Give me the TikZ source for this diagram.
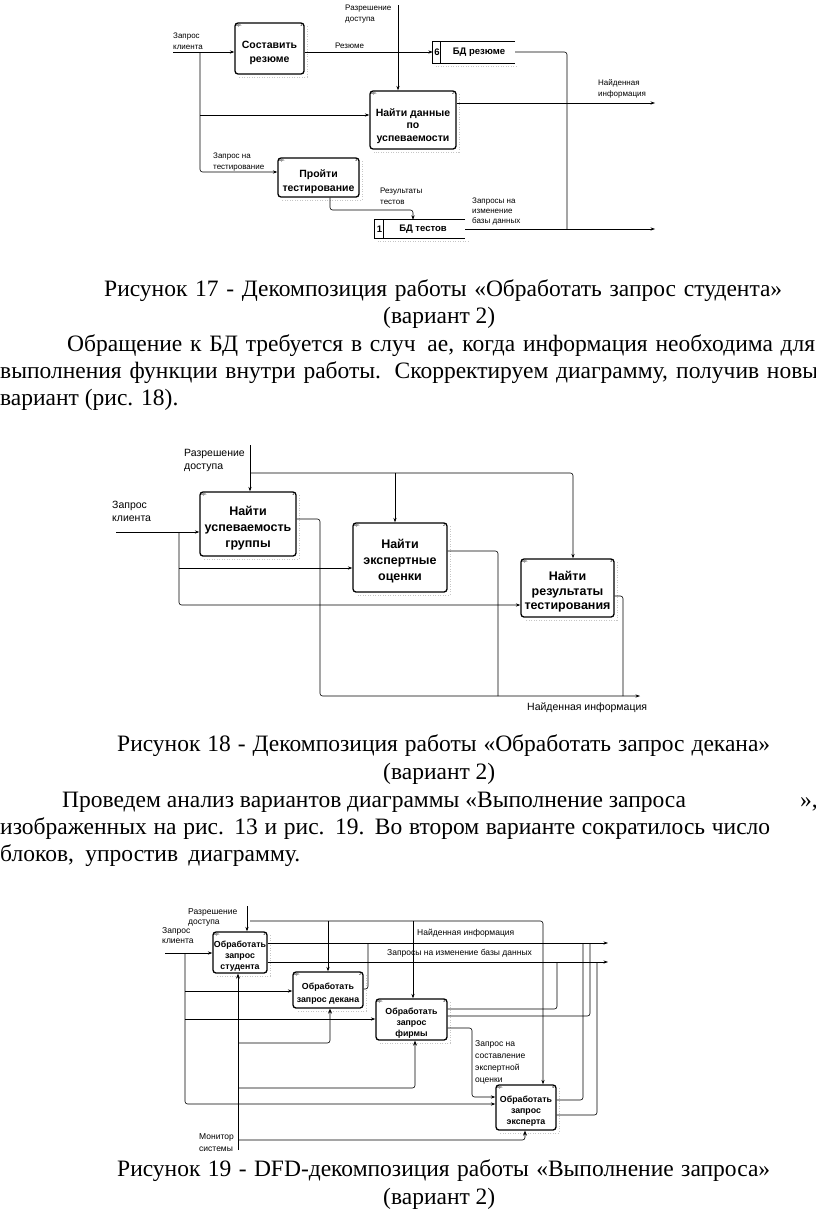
\documentclass[tikz,border=0pt]{standalone}
\usepackage{fontspec}
\setmainfont{Liberation Serif}
\setsansfont{Liberation Sans}
\usetikzlibrary{arrows.meta}
\newcommand\ibox[8][]{%
  \node[ibx,minimum width={(#5-#3)*1pt},minimum height={(#6-#4)*1pt}] (#2) at ({(#3+#5)/2},{(#4+#6)/2}) {};
  \node[ibt,#1] (#2-t) at ([shift={(0,4)}]#2.center) {#7};
  \node[tinyl,anchor=north west] (#2-op) at ([shift={(1.5,1.5)}]#2.north west) {0р.};
  \node[tinyl,anchor=north east] (#2-n) at ([shift={(-2,1.5)}]#2.north east) {#8};
  \draw[shd] ([shift={(2.5,4)}]#2.north east) -- ([shift={(2.5,2.5)}]#2.south east) -- ([shift={(5,2.5)}]#2.south west);
}
\newcommand\sline[2]{\makebox[#1pt][s]{#2}}
\tikzset{
  ln/.style={line width=0.6pt, rounded corners=2.5pt},
  arr/.style={ln, -{Stealth[length=4.5pt,width=3.2pt]}},
  marr/.style={ln, -{Stealth[length=5pt,width=4pt]}},
  ibx/.style={draw, line width=1.3pt, rounded corners=3pt, inner sep=0pt},
  ibt/.style={inner sep=0pt, align=center, font=\sffamily\bfseries},
  lbl/.style={inner sep=0pt, align=left, anchor=north west},
  body/.style={inner sep=0pt, anchor=base west, font=\fontsize{23.5}{28}\selectfont},
  tinyl/.style={inner sep=0pt, font=\sffamily\fontsize{4}{4}\selectfont},
  shd/.style={gray!45, line width=0.8pt, dash pattern=on 1pt off 1.5pt},
  stor/.style={inner sep=0pt},
  stxt/.style={inner sep=0pt, font=\sffamily\bfseries\fontsize{9.5}{10}\selectfont},
}
\begin{document}
\begin{tikzpicture}[x=1pt,y=-1pt]
\fill[white] (0,0) rectangle (816,1218);
\useasboundingbox (0,0) rectangle (816,1218);

% ================= Figure 17 =================
\begin{scope}[ibt/.append style={font=\sffamily\bfseries\fontsize{10.5}{14}\selectfont},
              lbl/.append style={font=\sffamily\fontsize{8}{11}\selectfont}]
\ibox{a1}{235}{23}{304}{74}{Составить\\резюме}{1}
\ibox[font=\sffamily\bfseries\fontsize{10.5}{12.5}\selectfont,yshift=-2pt]{a2}{370}{91}{456}{149}{Найти данные\\по\\успеваемости}{2}
\ibox{a3}{278}{158}{359}{197}{Пройти\\тестирование}{3}
% stores
\node[stor, minimum width=82pt, minimum height=21pt] (s1) at (474,52.5) {};
\draw[line width=1pt] (s1.north east) -- (s1.north west) -- (s1.south west) -- (s1.south east);
\draw[line width=0.8pt] ([xshift=8pt]s1.north west) -- ([xshift=8pt]s1.south west);
\node[stxt] (s1n) at (437,52.5) {6};
\node[stxt] (s1t) at (479,52.5) {БД резюме};
\draw[shd] ([shift={(3,3)}]s1.south west) -- ([shift={(3,3)}]s1.south east);
\node[stor, minimum width=90pt, minimum height=18pt] (s2) at (420,229) {};
\draw[line width=1pt] (s2.north east) -- (s2.north west) -- (s2.south west) -- (s2.south east);
\draw[line width=0.8pt] ([xshift=9pt]s2.north west) -- ([xshift=9pt]s2.south west);
\node[stxt] (s2n) at (379.5,229) {1};
\node[stxt] (s2t) at (423,229) {БД тестов};
\draw[shd] ([shift={(3,3)}]s2.south west) -- ([shift={(3,3)}]s2.south east);
% labels
\node[lbl] (l1) at (173,33) {Запрос\\клиента};
\node[lbl] (l2) at (345,5) {Разрешение\\доступа};
\node[lbl] (l3) at (335,43) {Резюме};
\node[lbl] (l4) at (598,79) {Найденная\\информация};
\node[lbl] (l5) at (213,153) {Запрос на\\тестирование};
\node[lbl] (l6) at (380,188) {Результаты\\тестов};
\node[lbl, font=\sffamily\fontsize{8}{10}\selectfont] (l7) at (472,198) {Запросы на\\изменение\\базы данных};
% connectors
\coordinate (qa) at (173,52);
\coordinate (ja) at (200,52);
\coordinate (pa) at (398,5);
\coordinate (oa1) at (655,103);
\coordinate (oa2) at (655,229);
\draw[arr] (qa) -- (a1.west |- qa);
\draw[arr] (ja) |- (a3.west |- 0,172);
\draw[arr] (ja |- 0,115) -- (a2.west |- 0,115);
\draw[arr] (a1.east |- qa) -- (s1.west |- qa);
\draw[arr] (pa) -- (pa |- a2.north);
\draw[arr] (a2.east |- oa1) -- (oa1);
\draw[ln] (s1.east |- qa) -| (567,229);
\draw[arr] (a3.south -| 330,0) |- (413,210) -- (s2.north -| 413,0);
\draw[arr] (s2.east |- oa2) -- (oa2);
\end{scope}

% ================= Figure 18 =================
\begin{scope}[ibt/.append style={font=\sffamily\bfseries\fontsize{12.5}{16}\selectfont},
              lbl/.append style={font=\sffamily\fontsize{10.5}{13}\selectfont}]
\ibox{c1}{200}{492}{296}{556}{Найти\\успеваемость\\группы}{1}
\ibox{c2}{353}{523}{447}{592}{Найти\\экспертные\\оценки}{2}
\ibox[font=\sffamily\bfseries\fontsize{12.5}{14.5}\selectfont]{c3}{521}{559}{614}{617}{Найти\\результаты\\тестирования}{3}
\node[lbl] (m1) at (184,449) {Разрешение\\доступа};
\node[lbl] (m2) at (112,501) {Запрос\\клиента};
\node[lbl] (m3) at (527,702) {Найденная информация};
\coordinate (pc) at (250,445);
\coordinate (qc) at (116,532);
\coordinate (jc) at (179,532);
\coordinate (oc) at (640,696);
\draw[arr] (pc) -- (pc |- c1.north);
\draw[arr] (250,473) -| (c3.north -| 573,0);
\draw[arr] (395,473) -- (c2.north -| 395,0);
\draw[arr] (qc) -- (c1.west |- qc);
\draw[arr] (jc) |- (c3.west |- 0,605);
\draw[arr] (jc |- 0,568) -- (c2.west |- 0,568);
\draw[arr] (c1.east |- 0,519) -| (320,696) -- (oc);
\draw[ln] (c2.east |- 0,551) -| (498,696);
\draw[ln] (c3.east |- 0,596) -| (623,696);
\end{scope}

% ================= Figure 19 =================
\begin{scope}[ibt/.append style={font=\sffamily\bfseries\fontsize{8.8}{11}\selectfont},
              lbl/.append style={font=\sffamily\fontsize{8.5}{10.5}\selectfont}]
\ibox{d1}{213}{932}{267}{973}{Обработать\\запрос\\студента}{1}
\ibox[font=\sffamily\bfseries\fontsize{8.8}{13}\selectfont]{d2}{293}{972}{363}{1008}{Обработать\\запрос декана}{2}
\ibox{d3}{376}{999}{447}{1040}{Обработать\\запрос\\фирмы}{3}
\ibox{d4}{496}{1085}{556}{1130}{Обработать\\запрос\\эксперта}{4}
\node[lbl] (n1) at (188,908) {Разрешение\\доступа};
\node[lbl] (n2) at (162,927) {Запрос\\клиента};
\node[lbl] (n3) at (417,929) {Найденная информация};
\node[lbl] (n4) at (387,949) {Запросы на изменение базы данных};
\node[lbl, font=\sffamily\fontsize{8.5}{12}\selectfont] (n5) at (475,1040) {Запрос на\\составление\\экспертной\\оценки};
\node[lbl, font=\sffamily\fontsize{8.5}{12}\selectfont] (n6) at (199,1133) {Монитор\\системы};
\coordinate (pd) at (247,906);
\coordinate (qd) at (165,953);
\coordinate (jd) at (185,953);
\coordinate (md) at (238,1150);
\coordinate (od1) at (608,943);
\coordinate (od2) at (608,962);
% control
\draw[arr] (pd) -- (pd |- d1.north);
\draw[arr] (250,921) -| (d4.north -| 543,0);
\draw[arr] (328,921) -- (d2.north -| 328,0);
\draw[arr] (413,921) -- (d3.north -| 413,0);
% inputs
\draw[arr] (qd) -- (d1.west |- qd);
\draw[arr] (jd) |- (d4.west |- 0,1104);
\draw[arr] (jd |- 0,991) -- (d2.west |- 0,991);
\draw[arr] (jd |- 0,1019) -- (d3.west |- 0,1019);
% mechanism
\draw[marr] (md) -- (md |- d1.south);
\draw[marr] (238,1043) -| (d2.south -| 330,0);
\draw[marr] (238,1088) -| (d3.south -| 415,0);
\draw[marr] (238,1140) -| (d4.south -| 525,0);
% outputs
\draw[arr] (d1.east |- od1) -- (od1);
\draw[arr] (d1.east |- od2) -- (od2);
\draw[ln] (d2.east |- 0,989) -| (368,943);
\draw[ln] (d3.east |- 0,1009) -| (557,962);
\draw[ln] (d3.east |- 0,1016) -| (590,943);
\draw[arr] (d3.east |- 0,1028) -| (472,1097) -- (d4.west |- 0,1097);
\draw[ln] (d4.east |- 0,1100) -| (583,943);
\draw[ln] (d4.east |- 0,1115) -| (597,962);
\end{scope}

% ================= Text =================
\node[body] (t1) at (104,296) {\sline{678}{Рисунок 17 - Декомпозиция работы «Обработать запрос студента»}};
\node[body] (t2) at (383,323) {(вариант 2)};
\node[body] (t3) at (67,351) {\sline{748}{Обращение к БД требуется в случ\hspace{0.5em}ае, когда информация необходима для}};
\node[body] (t4) at (0,378) {\sline{818}{выполнения функции внутри работы. Скорректируем диаграмму, получив новы}};
\node[body] (t5) at (0,405) {вариант (рис. 18).};
\node[body] (t6) at (117,751) {\sline{653}{Рисунок 18 - Декомпозиция работы «Обработать запрос декана»}};
\node[body] (t7) at (383,779) {(вариант 2)};
\node[body] (t8) at (62,807) {Проведем анализ вариантов диаграммы «Выполнение запроса};
\node[body] (t8b) at (800,807) {»,};
\node[body] (t9) at (0,834) {\sline{770}{изображенных на рис. 13 и рис. 19. Во втором варианте сократилось число}};
\node[body] (t10) at (0,861) {\sline{300}{блоков, упростив диаграмму.}};
\node[body] (t11) at (117,1176) {\sline{653}{Рисунок 19 - DFD-декомпозиция работы «Выполнение запроса»}};
\node[body] (t12) at (383,1204) {(вариант 2)};
\end{tikzpicture}
\end{document}
